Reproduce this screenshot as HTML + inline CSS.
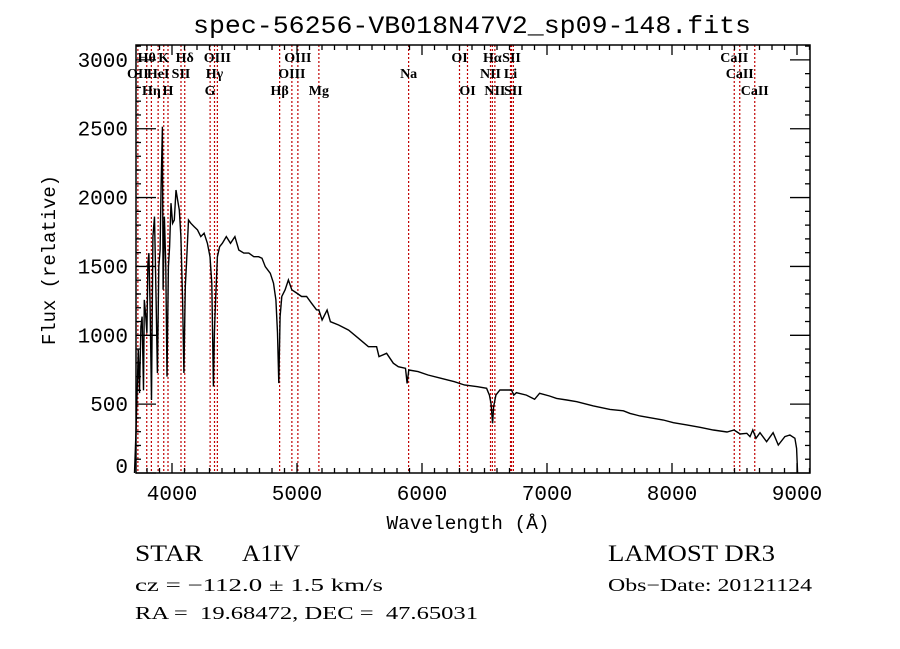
<!DOCTYPE html>
<html><head><meta charset="utf-8"><style>
html,body{margin:0;padding:0;background:#fff;}
svg{display:block;}
</style></head><body>
<svg id="chart" width="900" height="649" xmlns="http://www.w3.org/2000/svg">
<rect width="900" height="649" fill="#fff"/>
<text x="472" y="33" text-anchor="middle" font-family="Liberation Mono, monospace" font-size="25" textLength="558" lengthAdjust="spacingAndGlyphs">spec-56256-VB018N47V2_sp09-148.fits</text>
<g id="lines"></g>
<g id="labels"></g>
<path id="spec" fill="none" stroke="#000" stroke-width="1.4"/>
<g id="axes"></g>
<text x="468" y="529" text-anchor="middle" font-family="Liberation Mono, monospace" font-size="19" textLength="163" lengthAdjust="spacingAndGlyphs">Wavelength (Å)</text>
<text transform="translate(55,260) rotate(-90)" text-anchor="middle" font-family="Liberation Mono, monospace" font-size="19" textLength="170" lengthAdjust="spacingAndGlyphs">Flux (relative)</text>
<g font-family="Liberation Serif, serif">
<text x="135" y="561" font-size="23" textLength="68" lengthAdjust="spacingAndGlyphs">STAR</text>
<text x="242" y="561" font-size="23" textLength="58" lengthAdjust="spacingAndGlyphs">A1IV</text>
<text x="608" y="561" font-size="23" textLength="167" lengthAdjust="spacingAndGlyphs">LAMOST DR3</text>
<text x="135" y="591" font-size="18" textLength="248" lengthAdjust="spacingAndGlyphs">cz = −112.0 ± 1.5 km/s</text>
<text x="608" y="591" font-size="18" textLength="204" lengthAdjust="spacingAndGlyphs">Obs−Date: 20121124</text>
<text x="135" y="619" font-size="18" textLength="343" lengthAdjust="spacingAndGlyphs" xml:space="preserve">RA =  19.68472, DEC =  47.65031</text>
</g>
</svg>
<script>
const wavelengths=[3700,3712,3730,3740,3751,3761,3772,3778,3788,3799,3807,3815,3825,3836,3847,3860,3873,3883,3894,3905,3913,3923,3929,3939,3950,3960,3971,3981,3992,4005,4018,4032,4045,4058,4071,4085,4095,4106,4116,4132,4151,4177,4204,4230,4257,4283,4304,4318,4331,4339,4349,4363,4381,4402,4434,4468,4503,4534,4574,4614,4654,4693,4720,4746,4786,4812,4831,4844,4854,4865,4878,4905,4931,4958,4997,5037,5077,5116,5156,5175,5201,5241,5267,5333,5413,5492,5571,5637,5656,5717,5770,5810,5868,5881,5894,5968,6048,6153,6259,6339,6444,6517,6539,6552,6565,6573,6591,6623,6716,6734,6755,6835,6901,6941,7020,7077,7158,7238,7371,7504,7611,7664,7744,7851,7930,8011,8118,8224,8330,8440,8497,8545,8598,8624,8646,8672,8704,8757,8809,8850,8903,8943,8983,8997,9005];
const fluxes=[0,300,895,580,1063,1136,600,1257,1162,1017,1520,1597,1208,530,1717,1862,1257,726,1498,1619,2079,2515,1330,1862,1498,700,1498,1643,1959,1813,1837,2055,1983,1910,1717,1257,726,1355,1522,1837,1813,1789,1765,1717,1741,1668,1571,1378,628,1017,1257,1571,1643,1668,1717,1668,1717,1619,1597,1597,1571,1571,1559,1498,1450,1378,1257,1017,653,1136,1282,1330,1402,1330,1307,1282,1282,1233,1185,1184,1111,1184,1099,1075,1038,978,917,917,845,869,797,772,760,651,748,736,712,688,663,639,627,615,566,506,361,481,566,603,603,566,583,566,535,579,559,542,530,518,487,462,452,433,414,397,385,365,349,332,312,298,312,283,288,264,312,252,293,227,293,203,264,276,252,179,0];
const lineWaves=[3727,3798,3835,3889,3934,3968,4072,4102,4305,4340,4363,4861,4959,5007,5175,5893,6300,6364,6548,6563,6583,6708,6716,6731,8498,8542,8662];
const lineNames=["OII","Hθ","Hη","HeI","K","H","SII","Hδ","G","Hγ","OIII","Hβ","OIII","OIII","Mg","Na","OI","OI","NII","Hα","NII","Li","SII","SII","CaII","CaII","CaII"];
const lineRows=[1,0,2,1,0,2,1,0,2,1,0,2,1,0,2,1,0,2,1,0,2,1,0,2,0,1,2];
const xTicks=[4000,5000,6000,7000,8000,9000];
const yTicks=[0,500,1000,1500,2000,2500,3000];

const L=136,R=810,T=45,B=473, X0=3712,X1=9104, Y0=0,Y1=3108;
const sx=w=>L+(w-X0)/(X1-X0)*(R-L);
const sy=f=>B-(f-Y0)/(Y1-Y0)*(B-T);
const NS="http://www.w3.org/2000/svg";
function mk(tag,parent,attrs){const e=document.createElementNS(NS,tag);for(const k in attrs)e.setAttribute(k,attrs[k]);parent.appendChild(e);return e;}

let d="";
wavelengths.forEach((w,i)=>{d+=(i?"L":"M")+sx(w).toFixed(1)+","+sy(fluxes[i]).toFixed(1);});
document.getElementById('spec').setAttribute('d',d);

const gl=document.getElementById('lines'), gt=document.getElementById('labels');
const rowY=[62,78,95];
lineWaves.forEach((w,i)=>{
  const x=sx(w);
  const ln=mk('line',gl,{x1:x,x2:x,y1:T,y2:B,stroke:"#c00000","stroke-width":1.2,"stroke-dasharray":"2,2"});
  
  
  const t=mk('text',gt,{x:x,y:rowY[lineRows[i]],"text-anchor":"middle","font-family":"Liberation Serif, serif","font-size":14,"font-weight":"bold"});
  t.textContent=lineNames[i];
  
  
});

const ga=document.getElementById('axes');
const fr=mk('rect',ga,{x:L,y:T,width:R-L,height:B-T,fill:"none",stroke:"#000","stroke-width":1.5});


for(let w=3800;w<=X1;w+=100){
  const x=sx(w), major=(w%1000===0), len=major?10:5;
  mk('line',ga,{x1:x,x2:x,y1:B,y2:B-len,stroke:"#000","stroke-width":1.3});
  mk('line',ga,{x1:x,x2:x,y1:T,y2:T+len,stroke:"#000","stroke-width":1.3});
}
for(let f=0;f<=Y1;f+=100){
  const y=sy(f), major=(f%500===0), len=major?20:5;
  mk('line',ga,{x1:L,x2:L+len,y1:y,y2:y,stroke:"#000","stroke-width":1.3});
  mk('line',ga,{x1:R,x2:R-len,y1:y,y2:y,stroke:"#000","stroke-width":1.3});
}
xTicks.forEach(v=>{
  const t=mk('text',ga,{x:sx(v),y:B+27,"text-anchor":"middle","font-family":"Liberation Mono, monospace","font-size":21});
  t.textContent=v;
  
  
});
yTicks.forEach(v=>{
  const t=mk('text',ga,{x:L-8,y:Math.min(sy(v)+7,B),"text-anchor":"end","font-family":"Liberation Mono, monospace","font-size":21});
  t.textContent=v;
  
  
});
</script>
</body></html>
